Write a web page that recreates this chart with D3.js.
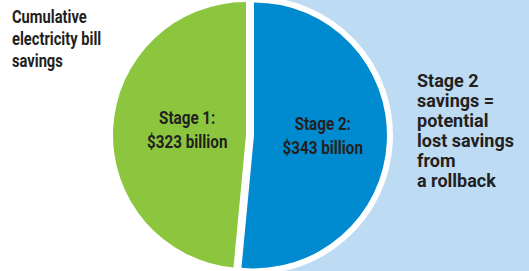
<!DOCTYPE html>
<html>
<head>
<meta charset="utf-8">
<script src="https://cdn.jsdelivr.net/npm/d3@7"></script>
<style>
  body { margin: 0; background: #fff; }
  svg { display: block; }
</style>
</head>
<body>
<script>
// ----- DATA -----
const stages = ["Stage 1", "Stage 2"];
const savings = [323, 343]; // cumulative savings, billion $
const sliceLabels = [["Stage 1:", "$323 billion"], ["Stage 2:", "$343 billion"]];
const titleLines = ["Cumulative", "electricity bill", "savings"];
const noteLines = ["Stage 2", "savings =", "potential", "lost savings", "from", "a rollback"];

const w = 529;
const h = 271;
const cx = 246, cy = 135, r = 133;
const explode = 8; // stage 2 pulled out
const colors = ["#8cc63f", "#008ad0"];
const ink = "#231f20";

const svg = d3.select("body").append("svg")
  .attr("width", w)
  .attr("height", h);

// light blue panel behind stage 2
svg.append("rect")
  .attr("x", 250).attr("y", 0)
  .attr("width", w - 250).attr("height", h)
  .attr("fill", "#bddbf2");

// ----- PIE -----
const total = d3.sum(savings);
const start = 2 * Math.PI * savings[1] / total; // stage 2 starts at 12 o'clock
const pie = d3.pie().sort(null)
  .startAngle(start)
  .endAngle(start + 2 * Math.PI);

const arcs = pie(savings);
const arc = d3.arc().innerRadius(0).outerRadius(r);
const labelArc = d3.arc().innerRadius(0).outerRadius(r * 0.96);

function offset(d, i) {
  if (i === 0) return [0, 0];
  const m = (d.startAngle + d.endAngle) / 2;
  return [Math.sin(m) * explode, -Math.cos(m) * explode];
}

const slices = svg.selectAll("g.slice")
  .data(arcs)
  .enter().append("g")
  .attr("class", "slice")
  .attr("transform", (d, i) => {
    const o = offset(d, i);
    return "translate(" + (cx + o[0]) + "," + (cy + o[1]) + ")";
  });

slices.append("path")
  .attr("d", arc)
  .attr("fill", (d, i) => colors[i])
  .attr("stroke", (d, i) => i === 1 ? "#fff" : "none")
  .attr("stroke-width", 12)
  .attr("stroke-linejoin", "round")
  .style("paint-order", "stroke");

// condensed bold text: Roboto squeezed horizontally
function lines(g, arr, lh) {
  arr.forEach((t, i) => {
    g.append("text").attr("y", i * lh).text(t);
  });
}

slices.each(function (d, i) {
  const c = labelArc.centroid(d);
  const g = d3.select(this).append("g")
    .attr("transform", "translate(" + (c[0] + 5) + "," + (c[1] - 8) + ") scale(0.8,1)")
    .attr("text-anchor", "middle")
    .attr("font-family", "Roboto, sans-serif")
    .attr("font-weight", "bold")
    .attr("font-size", 19)
    .attr("fill", ink);
  lines(g, sliceLabels[i], 24);
});

// ----- TITLE -----
const title = svg.append("g")
  .attr("transform", "translate(12,23) scale(0.84,1)")
  .attr("font-family", "Roboto, sans-serif")
  .attr("font-weight", "bold")
  .attr("font-size", 17.5)
  .attr("fill", ink);
lines(title, titleLines, 22);

// ----- NOTE -----
const note = svg.append("g")
  .attr("transform", "translate(417,87)")
  .attr("font-family", "Roboto, sans-serif")
  .attr("font-weight", "bold")
  .attr("font-size", 18)
  .attr("fill", ink);
lines(note, noteLines, 20);
</script>
</body>
</html>
